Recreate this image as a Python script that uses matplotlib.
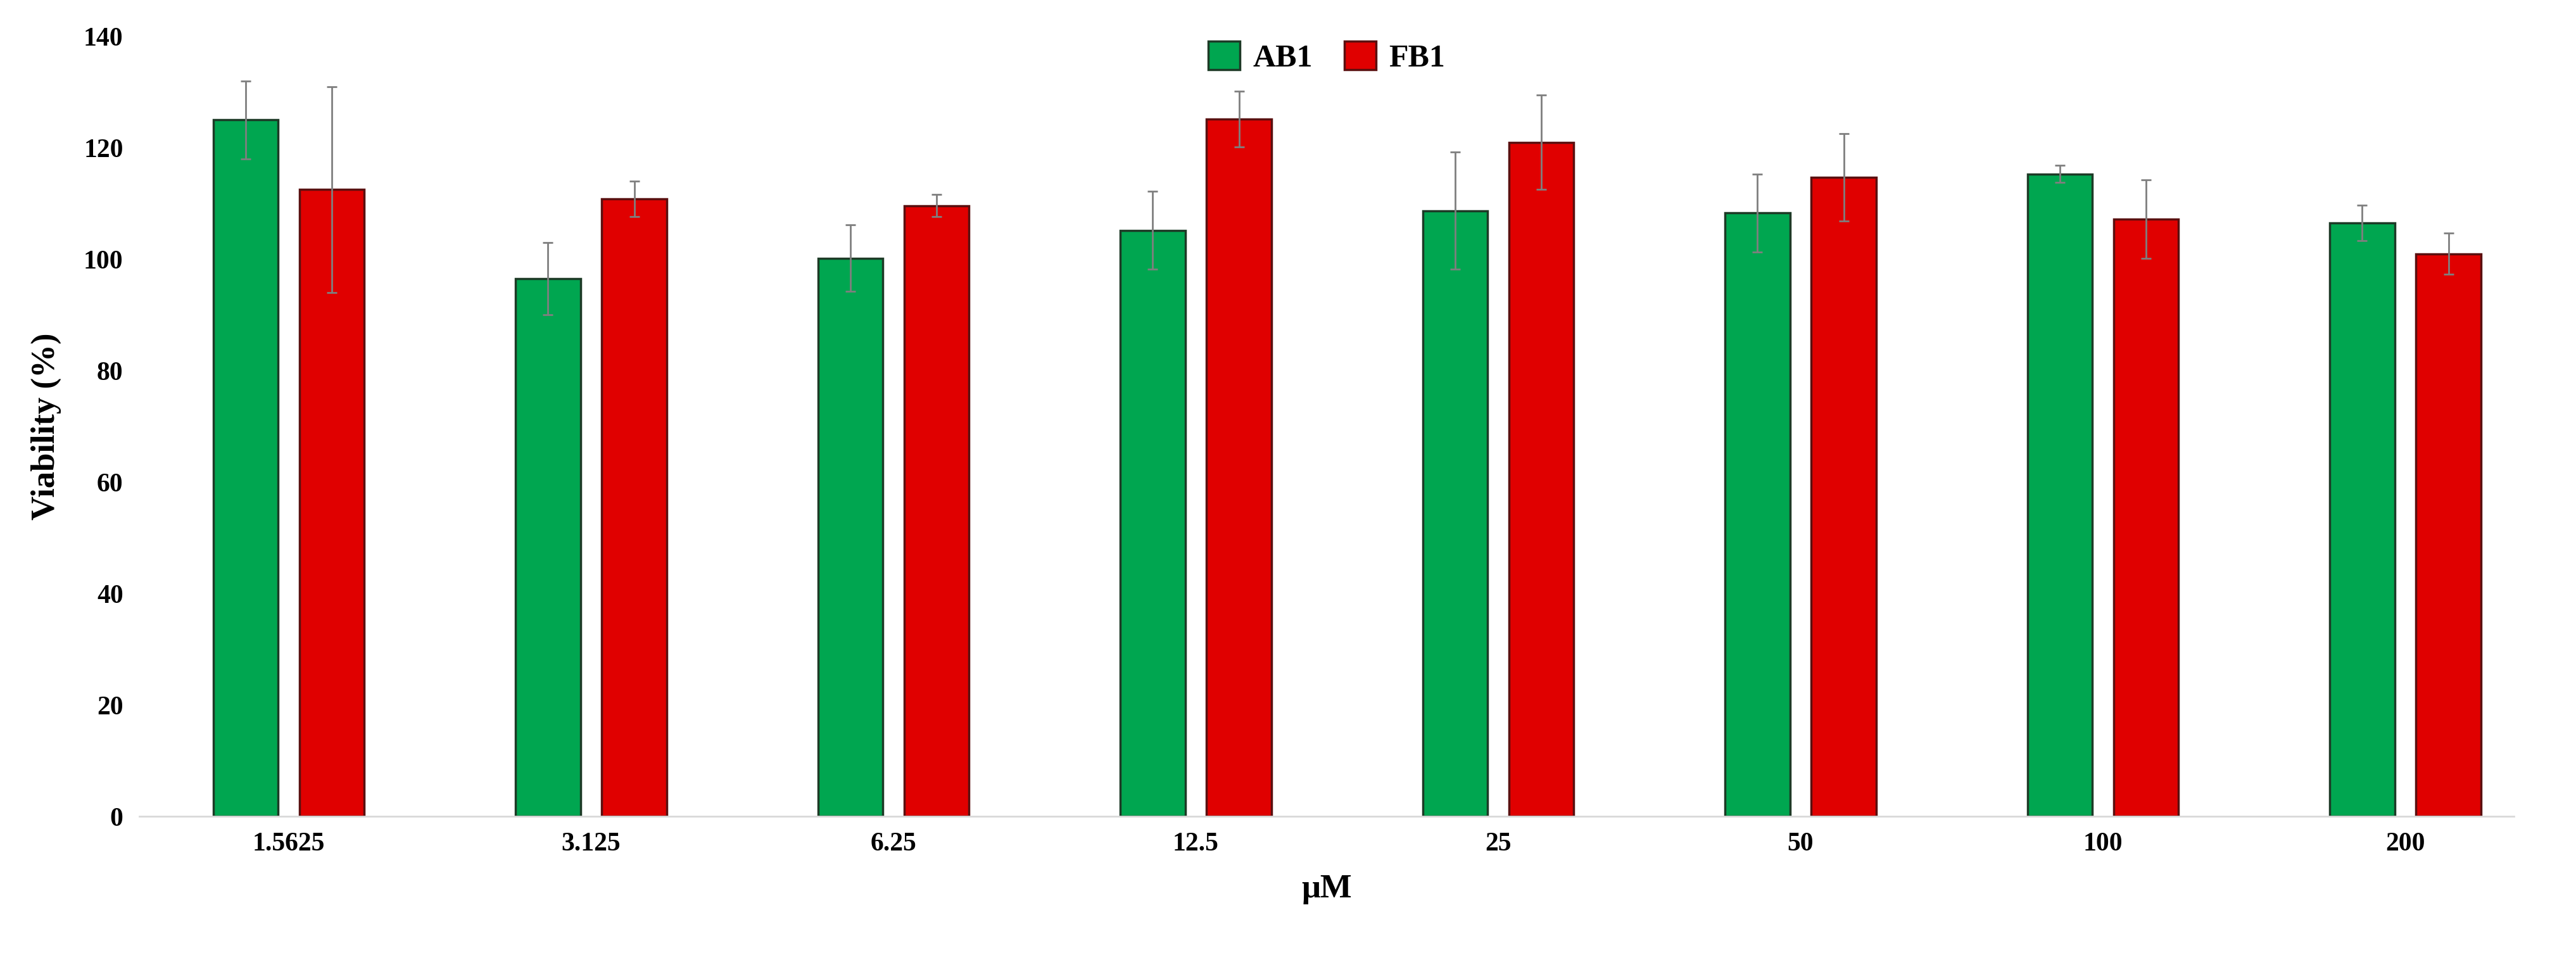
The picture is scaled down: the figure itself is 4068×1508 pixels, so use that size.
import matplotlib
matplotlib.use("Agg")
import matplotlib.pyplot as plt
import numpy as np

categories = ["1.5625", "3.125", "6.25", "12.5", "25", "50", "100", "200"]
ab1 = [125, 96.5, 100.2, 105.2, 108.7, 108.3, 115.3, 106.5]
ab1_err = [7, 6.5, 6, 7, 10.5, 7, 1.5, 3.2]
fb1 = [112.5, 110.8, 109.6, 125.2, 121, 114.7, 107.2, 101]
fb1_err = [18.5, 3.2, 2, 5, 8.5, 7.8, 7, 3.7]

plt.rcParams['font.family'] = ['Liberation Serif', 'DejaVu Serif']
plt.rcParams['font.weight'] = 'bold'

fig = plt.figure(figsize=(40.68, 15.08), dpi=100)
ax = fig.add_axes([0.054, 0.145, 0.922, 0.817])
x = np.arange(len(categories))
w = 0.215
gap = 0.035
ekw = dict(ecolor='#7f7f7f', elinewidth=2, capsize=6, capthick=2)
ax.bar(x - w/2 - gap, ab1, w, yerr=ab1_err, color='#00a650', edgecolor='#1d3a26', linewidth=2.5, label='AB1', error_kw=ekw)
ax.bar(x + w/2 + gap, fb1, w, yerr=fb1_err, color='#e00000', edgecolor='#5a1010', linewidth=2.5, label='FB1', error_kw=ekw)
ax.set_xticks(x)
ax.set_xticklabels(categories)
ax.set_xlim(-0.495, len(categories) - 0.64)
ax.set_ylim(0, 140)
ax.set_yticks(range(0, 141, 20))
ax.tick_params(axis='both', labelsize=30, length=0, pad=18)
for lab in ax.get_xticklabels() + ax.get_yticklabels():
    lab.set_fontweight('bold')
for s in ['top', 'right', 'left']:
    ax.spines[s].set_visible(False)
ax.spines['bottom'].set_color('#d9d9d9')
ax.spines['bottom'].set_linewidth(2)
ax.set_ylabel('Viability (%)', fontsize=38, fontweight='bold', labelpad=25)
ax.set_xlabel('μM', fontsize=38, fontweight='bold', labelpad=20)
ax.legend(loc='upper center', bbox_to_anchor=(0.5, 1.03), ncol=2, frameon=False,
          prop={'size': 36, 'weight': 'bold'}, handlelength=1, handleheight=1, columnspacing=1.0, handletextpad=0.4)
fig.savefig('out.png', dpi=100)
